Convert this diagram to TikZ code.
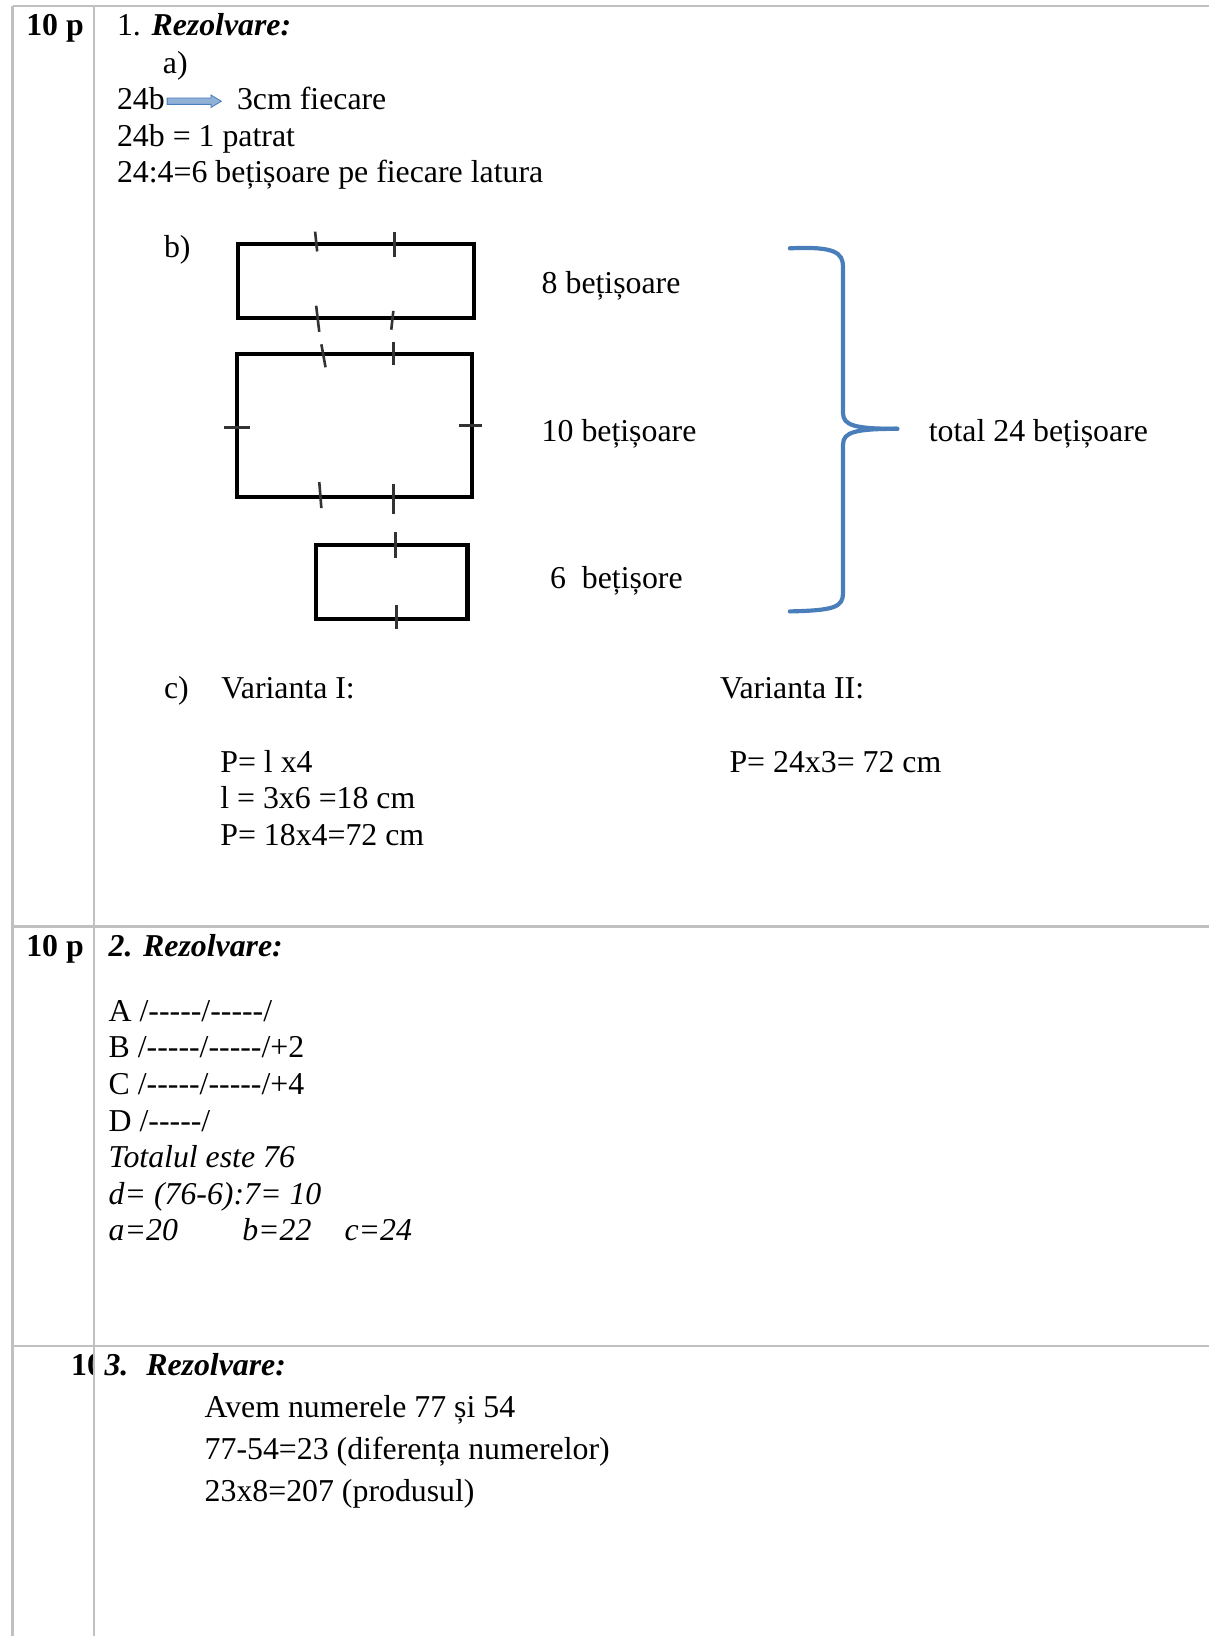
\documentclass[tikz,border=0pt]{standalone}
\usepackage{fontspec}
\setmainfont{Liberation Serif}[Ligatures=TeXOff]
\usepackage{tikz}
\usepackage{xcolor}
\definecolor{gridgray}{HTML}{C0C0C0}
\definecolor{braceblue}{HTML}{4A7EBB}

\begin{document}
\begin{tikzpicture}[x=1pt,y=-1pt,
  txt/.style={anchor=base west,inner sep=0pt,font=\fontsize{30.5}{36}\selectfont},
  grid/.style={draw=gridgray,line width=2pt},
  stick/.style={draw=black,line width=4pt},
  tick/.style={draw=black!80,line width=2.5pt},
  brace/.style={draw=braceblue,line width=4pt,line cap=round}]
\useasboundingbox (0,0) rectangle (1159,1568);
% table
\draw[grid] (12,6) -- (1159,6);
\draw[grid] (12,888) -- (1159,888);
\draw[grid] (12,1290) -- (1159,1290);
\draw[grid] (12,6) -- (12,1568);
\draw[grid] (90,6) -- (90,1568);

% row 1
\node[txt] (p1) at (25,34) {\textbf{10 p}};
\node[txt] (r1) at (112,34) {1. \textbf{\textit{Rezolvare:}}};
\node[txt] (a) at (156,70) {a)};
\node[txt] (b24) at (112,105) {24b};
\node[txt] (cm3) at (227,105) {3cm fiecare};
\fill[braceblue!60,draw=braceblue,line width=0.8pt]
  ([xshift=2pt,yshift=11pt]b24.base east) -- ++(42,0) -- ++(0,-3) -- ++(10,6)
  -- ++(-10,6) -- ++(0,-3) -- ++(-42,0) -- cycle;
\node[txt] (pat) at (112,140) {24b = 1 patrat};
\node[txt] (lat) at (112,175) {24:4=6 bețișoare pe fiecare latura};
\node[txt] (b) at (157,247) {b)};

% rectangles of sticks
\draw[stick] (228,234) rectangle (454,305);
\draw[stick] (227,339) rectangle (452,476);
\draw[stick] (303,522) rectangle (448,593);
\draw[tick] (302,222) -- (304,241);
\draw[tick] (378,222) -- (378,246);
\draw[tick] (303,293) -- (306,318);
\draw[tick] (377,298) -- (375,316);
\draw[tick] (308,330) -- (312,352);
\draw[tick] (377,328) -- (377,350);
\draw[tick] (215,410) -- (240,410);
\draw[tick] (440,408) -- (462,408);
\draw[tick] (306,462) -- (308,487);
\draw[tick] (377,464) -- (377,493);
\draw[tick] (379,510) -- (379,535);
\draw[tick] (380,580) -- (380,603);
\node[txt] (s8) at (519,281) {8 bețișoare};
\node[txt] (s10) at (519,423) {10 bețișoare};
\node[txt] (s6) at (527,564) {6\ \ bețișore};

% brace
\draw[brace] (757,238) .. controls (800,236) and (808,242) .. (808,256) -- (808,396)
  .. controls (808,408) and (820,411) .. (860,411);
\draw[brace] (860,411) .. controls (820,411) and (808,414) .. (808,426) -- (808,568)
  .. controls (808,582) and (800,585) .. (757,586);
\node[txt] (tot) at (890,423) {total 24 bețișoare};

% c)
\node[txt] (c) at (157,669) {c)};
\node[txt] (v1) at (212,669) {Varianta I:};
\node[txt] (v2) at (690,669) {Varianta II:};
\node[txt] (v1a) at (211,740) {P= l x4};
\node[txt] (v1b) at (211,775) {l = 3x6 =18 cm};
\node[txt] (v1c) at (211,810) {P= 18x4=72 cm};
\node[txt] (v2a) at (699,740) {P= 24x3= 72 cm};

% row 2
\node[txt] (p2) at (25,917) {\textbf{10 p}};
\node[txt] (r2) at (104,917) {\textbf{\textit{2. Rezolvare:}}};
\node[txt] (sa) at (104,979) {A /-----/-----/};
\node[txt] (sb) at (104,1014) {B /-----/-----/+2};
\node[txt] (sc) at (104,1049) {C /-----/-----/+4};
\node[txt] (sd) at (104,1084) {D /-----/};
\node[txt] (tt) at (104,1119) {\textit{Totalul este 76}};
\node[txt] (dd) at (104,1154) {\textit{d= (76-6):7= 10}};
\node[txt] (ra) at (104,1189) {\textit{a=20}};
\node[txt] (rb) at (232,1189) {\textit{b=22}};
\node[txt] (rc) at (330,1189) {\textit{c=24}};

% row 3
\begin{scope}
\clip (12,1290) rectangle (89,1568);
\node[txt] (p3) at (68,1318) {\makebox[18pt][l]{\textbf{10}}};
\end{scope}
\node[txt] (r3) at (100,1318) {\textbf{\textit{3.}}};
\node[txt] (r3b) at (140,1318) {\textbf{\textit{Rezolvare:}}};
\node[txt] (n1) at (196,1359) {Avem numerele 77 și 54};
\node[txt] (n2) at (196,1399) {77-54=23 (diferența numerelor)};
\node[txt] (n3) at (196,1439) {23x8=207 (produsul)};
\end{tikzpicture}
\end{document}
